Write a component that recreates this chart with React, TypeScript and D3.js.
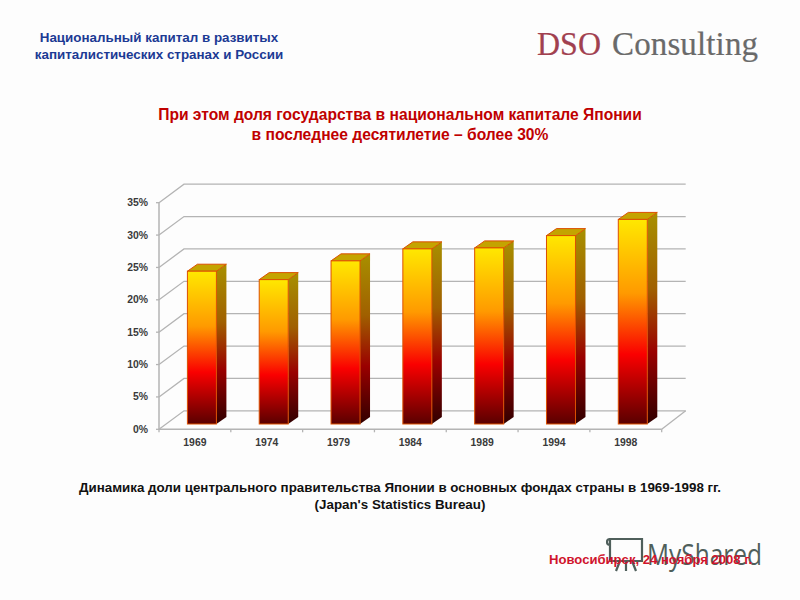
import React from "react";
import * as d3 from "d3";

const years = ["1969", "1974", "1979", "1984", "1989", "1994", "1998"];
const shares = [23.6, 22.3, 25.2, 27.05, 27.2, 29.1, 31.6];
const yTicks = [0, 5, 10, 15, 20, 25, 30, 35];

const headerLines = ["Национальный капитал в развитых", "капиталистических странах и России"];
const titleLines = ["При этом доля государства в национальном капитале Японии", "в последнее десятилетие – более 30%"];
const captionLines = [
  "Динамика доли центрального правительства Японии в основных фондах страны в 1969-1998 гг.",
  "(Japan's Statistics Bureau)",
];
const footer = "Новосибирск, 24 ноября 2008 г.";

const FONT = "'Liberation Sans', Arial, sans-serif";
const GRID = "#b4b4b4";

const x0 = 159;
const x1 = 661.7;
const yBase = 429.3;
const yTop = 202.7;
const backDx = 25;
const backDy = 18.5;
const barDepthDx = 10;
const barDepthDy = 7;
const barFloorDx = 7;
const barFloorDy = 5.3;

const x = d3.scaleBand<string>().domain(years).range([x0, x1]);
const y = d3.scaleLinear().domain([0, 35]).range([yBase, yTop]);
const barWidth = 29;

const poly = d3.line<[number, number]>();

export default function App() {
  return (
    <svg
      width={800}
      height={600}
      style={{ position: "absolute", left: 0, top: 0, background: "#fdfdfd" }}
      fontFamily={FONT}
    >
      <defs>
        <linearGradient id="front" x1="0" y1="0" x2="0" y2="1">
          <stop offset="0" stopColor="#ffe800" />
          <stop offset="0.36" stopColor="#ff9a00" />
          <stop offset="0.66" stopColor="#fa0000" />
          <stop offset="1" stopColor="#5a0000" />
        </linearGradient>
        <linearGradient id="side" x1="0" y1="0" x2="0" y2="1">
          <stop offset="0" stopColor="#a89000" />
          <stop offset="0.36" stopColor="#a06000" />
          <stop offset="0.66" stopColor="#9a0000" />
          <stop offset="1" stopColor="#300000" />
        </linearGradient>
      </defs>

      <g fontWeight="bold" fontSize={13.4} fill="#1c3a94" textAnchor="middle">
        {headerLines.map((t, i) => (
          <text key={t} x={159} y={41.5 + i * 17}>{t}</text>
        ))}
      </g>

      <g fontFamily="'Liberation Serif', 'DejaVu Serif', serif" fontSize={33} strokeWidth={0.2}>
        <text x={537} y={55} fill="#a1404f" stroke="#a1404f" textLength={64} lengthAdjust="spacingAndGlyphs">DSO</text>
        <text x={612} y={55} fill="#6a6a6a" stroke="#6a6a6a" textLength={146} lengthAdjust="spacing">Consulting</text>
      </g>

      <g fontWeight="bold" fontSize={15.6} fill="#c00000" textAnchor="middle">
        {titleLines.map((t, i) => (
          <text key={t} x={400} y={119.5 + i * 20}>{t}</text>
        ))}
      </g>

      {/* walls */}
      <g fill="none" stroke={GRID} strokeWidth={1.3}>
        {yTicks.map((t) => (
          <path
            key={t}
            d={poly([
              [x0, y(t)],
              [x0 + backDx, y(t) - backDy],
              [x1 + backDx - 1, y(t) - backDy],
            ])!}
          />
        ))}
        <path d={poly([[x1, yBase], [x1 + backDx - 1, yBase - backDy]])!} />
        <path d={poly([[x0, yTop], [x0, yBase], [x1, yBase]])!} strokeWidth={1.5} />
        {yTicks.map((t) => (
          <path key={t} d={poly([[x0 - 3, y(t)], [x0, y(t)]])!} />
        ))}
        {[...years.map((c) => x(c)!), x1].map((v) => (
          <path key={v} d={poly([[v, yBase], [v, yBase + 3]])!} />
        ))}
      </g>

      {/* bars */}
      {years.map((c, i) => {
        const left = x(c)! + x.bandwidth() / 2 - barWidth / 2 + barFloorDx;
        const right = left + barWidth;
        const bottom = yBase - barFloorDy;
        const top = bottom - (yBase - y(shares[i]));
        return (
          <g key={c} stroke="#dc5000" strokeWidth={1}>
            <path
              d={poly([
                [right, top],
                [right + barDepthDx, top - barDepthDy],
                [right + barDepthDx, bottom - barDepthDy],
                [right, bottom],
              ])! + "Z"}
              fill="url(#side)"
              stroke="none"
            />
            <path
              d={poly([
                [left, top],
                [left + barDepthDx, top - barDepthDy],
                [right + barDepthDx, top - barDepthDy],
                [right, top],
              ])! + "Z"}
              fill="#c4a400"
            />
            <rect x={left} y={top} width={barWidth} height={bottom - top} fill="url(#front)" />
          </g>
        );
      })}

      <g fontWeight="bold" fontSize={10.4} fill="#3a3a3a">
        {yTicks.map((t) => (
          <text key={t} x={148} y={y(t) + 3.5} textAnchor="end">{t}%</text>
        ))}
        {years.map((c) => (
          <text key={c} x={x(c)! + x.bandwidth() / 2} y={445.5} textAnchor="middle">{c}</text>
        ))}
      </g>

      <g fontWeight="bold" fontSize={13.35} fill="#111" textAnchor="middle">
        {captionLines.map((t, i) => (
          <text key={t} x={400} y={492 + i * 17}>{t}</text>
        ))}
      </g>

      {/* watermark */}
      <g stroke="#4f5f5b" strokeWidth={2.2} fill="none">
        <path d="M610 539H642V561H610Z M610 539C606 539 606 545 610 545 M620 561L616 571 M626 561V571 M632 561L636 571" />
      </g>
      <text x={647} y={565} fontSize={29} fill="#4f5f5b" fontFamily="'Open Sans', sans-serif" textLength={115} lengthAdjust="spacingAndGlyphs">MyShared</text>

      <text x={549} y={564} fontWeight="bold" fontSize={13.1} fill="#d0142c">{footer}</text>
    </svg>
  );
}
